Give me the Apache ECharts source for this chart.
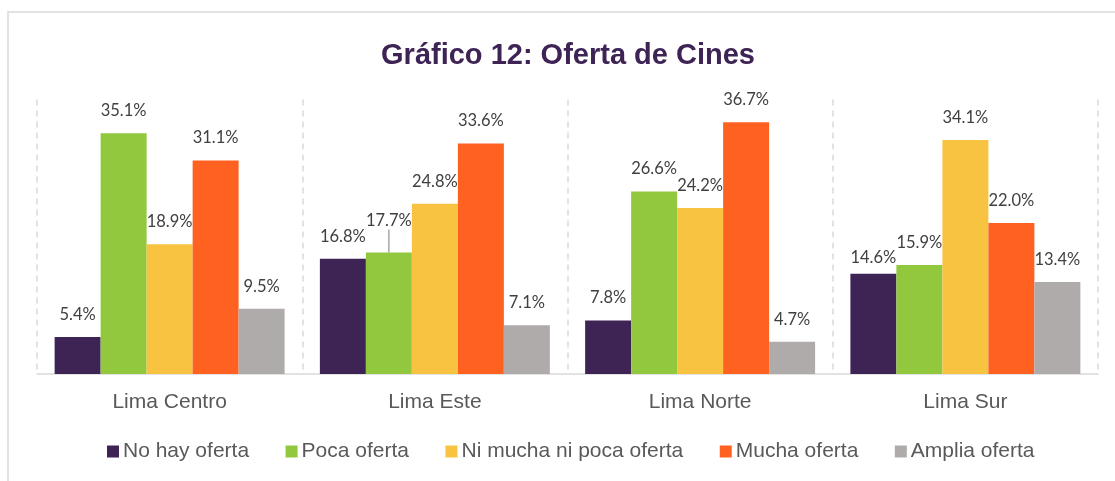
<!DOCTYPE html>
<html>
<head>
<meta charset="utf-8">
<script src="https://cdn.jsdelivr.net/npm/echarts@6/dist/echarts.min.js"></script>
<style>
    html, body { margin: 0; padding: 0; background: #fff; }
    #chart { width: 1115px; height: 481px; }
</style>
</head>
<body>
<div id="chart"></div>
<script>
    // datos
    var zonas = ['Lima Centro', 'Lima Este', 'Lima Norte', 'Lima Sur'];
    var noHay = [5.4, 16.8, 7.8, 14.6];
    var poca = [35.1, 17.7, 26.6, 15.9];
    var niMuchaNiPoca = [18.9, 24.8, 24.2, 34.1];
    var mucha = [31.1, 33.6, 36.7, 22.0];
    var amplia = [9.5, 7.1, 4.7, 13.4];

    var nombres = ['No hay oferta', 'Poca oferta', 'Ni mucha ni poca oferta', 'Mucha oferta', 'Amplia oferta'];
    var colores = ['#3e2355', '#92c83e', '#f9c342', '#ff6121', '#afabab'];
    var valores = [noHay, poca, niMuchaNiPoca, mucha, amplia];

    var chart = echarts.init(document.getElementById('chart'));

    var series = valores.map(function (v, i) {
        return {
            name: nombres[i],
            type: 'bar',
            data: v.map(function (x) { return { value: x }; }),
            barGap: '0%',
            barCategoryGap: '13.3%',
            itemStyle: { color: colores[i] },
            label: {
                show: true,
                position: 'top',
                distance: 14,
                color: '#404040',
                fontFamily: 'Lato',
                fontSize: 16.5,
                formatter: function (p) { return p.value.toFixed(1) + '%'; }
            },
            labelLine: { show: false }
        };
    });

    // etiqueta 17.7% desplazada con línea guía
    series[1].data[1].labelLine = { show: true, lineStyle: { color: '#a6a6a6', width: 1.5 } };
    series[1].labelLayout = function (p) {
        if (p.dataIndex === 1) return { dy: -9 };
        return {};
    };
    // 14.6% algo más cerca de la barra
    series[0].labelLayout = function (p) {
        if (p.dataIndex === 3) return { dy: 6 };
        return {};
    };

    chart.setOption({
        animation: false,
        graphic: [{
            type: 'rect',
            shape: { x: 8, y: 12, width: 1200, height: 600 },
            style: { fill: 'none', stroke: '#d9d9d9', lineWidth: 1.5 }
        }],
        title: {
            text: 'Gráfico 12: Oferta de Cines',
            left: 563,
            top: 36,
            textAlign: 'center',
            textStyle: {
                fontFamily: 'Liberation Sans',
                fontSize: 29,
                fontWeight: 'bold',
                color: '#3e2355'
            }
        },
        legend: {
            data: nombres,
            left: 102,
            top: 436,
            itemWidth: 12,
            itemHeight: 12,
            itemGap: 36.5,
            icon: 'rect',
            textStyle: {
                fontFamily: 'Liberation Sans',
                fontSize: 21,
                color: '#595959',
                padding: [0, 0, 0, -1]
            }
        },
        grid: {
            left: 37,
            right: 17,
            top: 99.5,
            bottom: 107
        },
        xAxis: {
            type: 'category',
            data: zonas,
            axisLine: { lineStyle: { color: '#d9d9d9', width: 1.5 } },
            axisTick: { show: false },
            splitLine: {
                show: true,
                lineStyle: { color: '#d9d9d9', type: [6, 5], width: 1.5 }
            },
            axisLabel: {
                margin: 18,
                fontFamily: 'Liberation Sans',
                fontSize: 21,
                color: '#595959'
            }
        },
        yAxis: {
            type: 'value',
            min: 0,
            max: 40,
            show: false,
            splitLine: { show: false }
        },
        series: series
    });
</script>
</body>
</html>
